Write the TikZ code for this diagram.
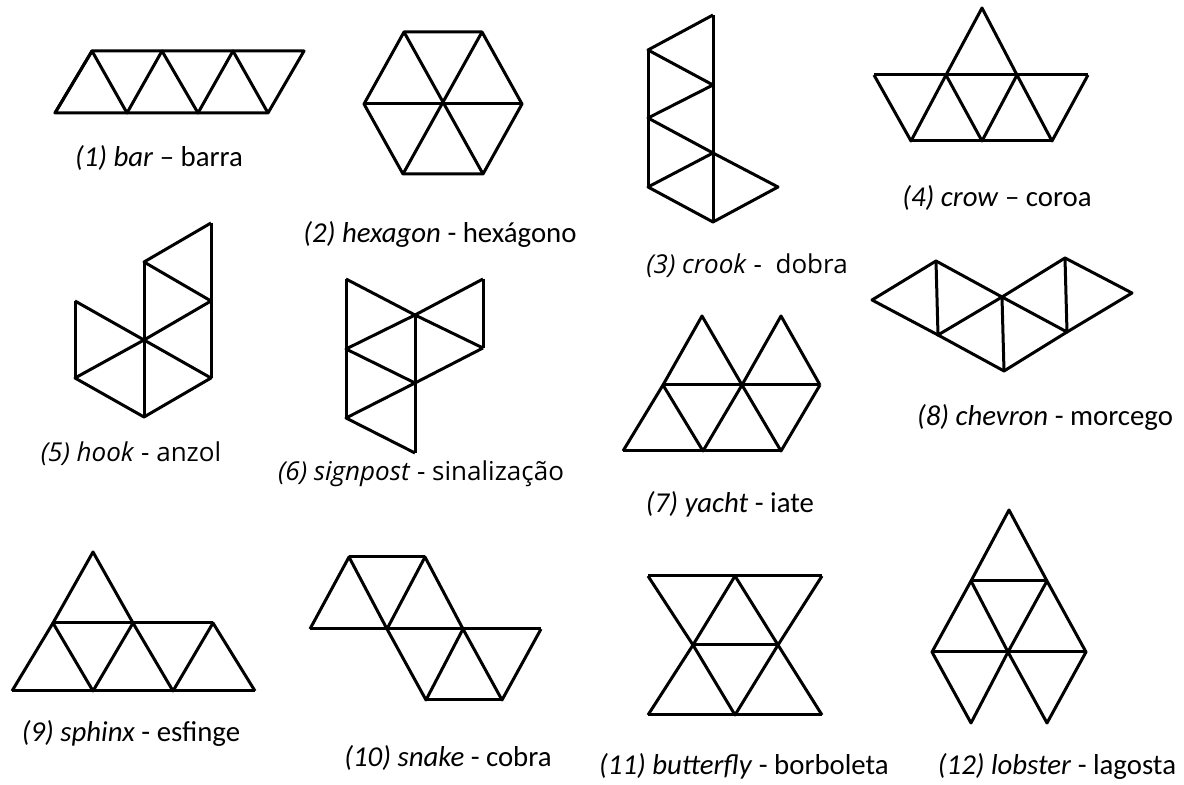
\documentclass[tikz,border=0pt]{standalone}
\usepackage{fontspec}
\setmainfont{Carlito}
\newfontfamily\opensans{Open Sans}
\begin{document}
\begin{tikzpicture}[x=0.5pt,y=-0.5pt,line width=1.5pt,line join=round,
    rotulo/.style={anchor=base,font=\fontsize{14.4}{17}\selectfont},
    rotulob/.style={anchor=base,font=\opensans\fontsize{13}{16}\selectfont}]
  \useasboundingbox (0,0) rectangle (1184,785);
  % (1) barra
  \draw (55,113) -- (268,113) -- (304,51) -- (92,51) -- cycle;
  \draw (55,113) -- (92,51) -- (127,113) -- (162,51) -- (198,113) -- (233,51) -- (268,113);
  \node[rotulo] (bar) at (159,167) {\textit{(1) bar} – barra};
  % (2) hexagono
  \draw (404,32) -- (482,32) -- (522,104) -- (483,174) -- (403,174) -- (364,104) -- cycle;
  \draw (364,104) -- (522,104);
  \draw (404,32) -- (483,174);
  \draw (482,32) -- (403,174);
  \node[rotulo] (hexagon) at (440,243) {\textit{(2) hexagon} - hexágono};
  % (3) dobra
  \draw (713,15) -- (713,222);
  \draw (648,50) -- (648,187);
  \draw (713,15) -- (648,50) -- (713,85) -- (648,118) -- (713,153) -- (648,187) -- (713,222) -- (778,187) -- (713,153);
  \node[rotulob] (crook) at (747,274) {\textit{(3) crook} -~ dobra};
  % (4) coroa
  \draw (874,75) -- (1088,75);
  \draw (911,141) -- (1052,141);
  \draw (946,75) -- (982,8) -- (1017,75);
  \draw (874,75) -- (911,141) -- (946,75) -- (982,141) -- (1017,75) -- (1052,141) -- (1088,75);
  \node[rotulo] (crow) at (997,207) {\textit{(4) crow} – coroa};
  % (5) anzol
  \draw (211,223) -- (211,378);
  \draw (144,262) -- (144,417);
  \draw (75,301) -- (75,378);
  \draw (211,223) -- (144,262) -- (211,301) -- (144,340) -- (75,378) -- (144,417) -- (211,378) -- (144,340) -- (75,301);
  \node[rotulob] (hook) at (131,462) {\textit{(5) hook} - anzol};
  % (6) sinalizacao
  \draw (346,279) -- (346,418);
  \draw (415,315) -- (415,453);
  \draw (483,279) -- (483,348);
  \draw (346,279) -- (415,315) -- (483,279);
  \draw (483,348) -- (415,315) -- (346,349) -- (415,383) -- (483,348);
  \draw (415,383) -- (346,418) -- (415,453);
  \node[rotulob] (signpost) at (421,481) {\textit{(6) signpost} - sinalização};
  % (7) iate
  \draw (663,385) -- (820,385);
  \draw (623,451) -- (781,451);
  \draw (663,385) -- (702,316) -- (742,385) -- (781,316) -- (820,385);
  \draw (623,451) -- (663,385) -- (703,451) -- (742,385) -- (781,451) -- (820,385);
  \node[rotulo] (yacht) at (730,513) {\textit{(7) yacht} - iate};
  % (8) morcego
  \draw (872,300) -- (936,261) -- (1002,297) -- (1065,258) -- (1132,293) -- (1067,332) -- (1004,371) -- (938,335) -- cycle;
  \draw (936,261) -- (938,335) -- (1002,297) -- (1067,332) -- (1065,258);
  \draw (1002,297) -- (1004,371);
  \node[rotulo] (chevron) at (1045,426) {\textit{(8) chevron} - morcego};
  % (9) esfinge
  \draw (53,623) -- (213,623);
  \draw (12,691) -- (255,691);
  \draw (53,623) -- (93,552) -- (133,623);
  \draw (12,691) -- (53,623) -- (93,691) -- (133,623) -- (173,691) -- (213,623) -- (255,691);
  \node[rotulo] (sphinx) at (131,742) {\textit{(9) sphinx} - esfinge};
  % (10) cobra
  \draw (349,557) -- (425,557);
  \draw (310,629) -- (541,629);
  \draw (426,700) -- (502,700);
  \draw (310,629) -- (349,557) -- (387,629) -- (425,557) -- (463,629);
  \draw (387,629) -- (426,700) -- (463,629) -- (502,700) -- (541,629);
  \node[rotulo] (snake) at (448,767) {\textit{(10) snake} - cobra};
  % (11) borboleta
  \draw (648,576) -- (822,576);
  \draw (693,645) -- (778,645);
  \draw (648,715) -- (822,715);
  \draw (648,576) -- (693,645) -- (648,715);
  \draw (822,576) -- (778,645) -- (822,715);
  \draw (735,576) -- (693,645) -- (735,715) -- (778,645) -- cycle;
  \node[rotulo] (butterfly) at (744,775) {\textit{(11) butterfly} - borboleta};
  % (12) lagosta
  \draw (1009,510) -- (971,581) -- (932,652) -- (971,723) -- (1008,652) -- (1047,723) -- (1086,652) -- (1047,581) -- cycle;
  \draw (971,581) -- (1047,581);
  \draw (932,652) -- (1086,652);
  \draw (971,581) -- (1008,652) -- (1047,581);
  \node[rotulo] (lobster) at (1057,775) {\textit{(12) lobster} - lagosta};
\end{tikzpicture}
\end{document}
